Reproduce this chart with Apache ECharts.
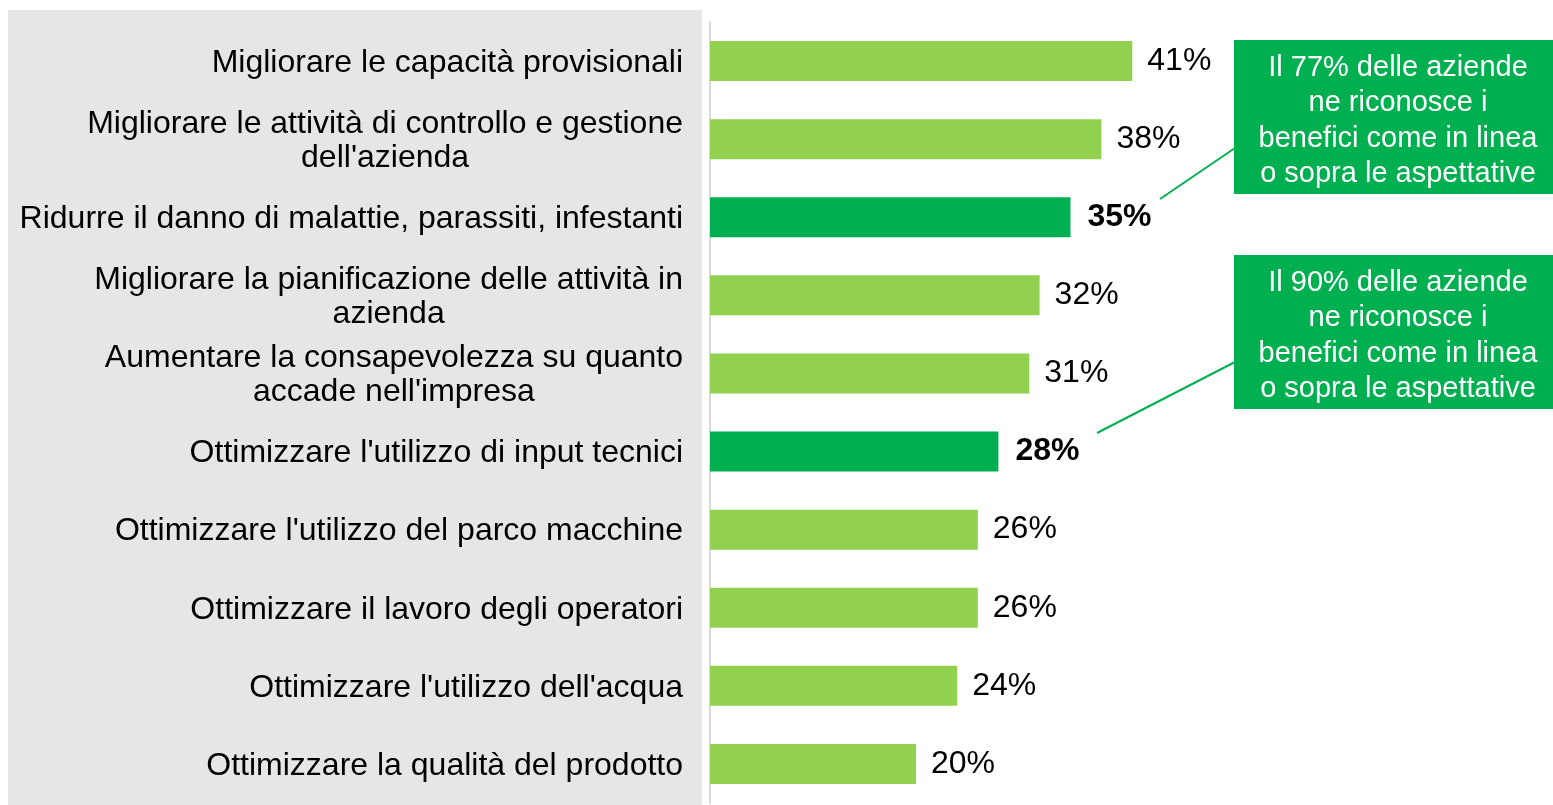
<!DOCTYPE html>
<html>
<head>
<meta charset="utf-8">
<script src="https://cdn.jsdelivr.net/npm/echarts@6/dist/echarts.min.js"></script>
<style>
  html, body { margin: 0; padding: 0; background: #fff; }
  #chart { width: 1553px; height: 805px; }
</style>
</head>
<body>
<div id="chart"></div>
<script>
// categorie (dall'alto verso il basso)
const categories = [
  'Migliorare le capacità provisionali',
  'Migliorare le attività di controllo e gestione\ndell\'azienda',
  'Ridurre il danno di malattie, parassiti, infestanti',
  'Migliorare la pianificazione delle attività in\nazienda',
  'Aumentare la consapevolezza su quanto\naccade nell\'impresa',
  'Ottimizzare l\'utilizzo di input tecnici',
  'Ottimizzare l\'utilizzo del parco macchine',
  'Ottimizzare il lavoro degli operatori',
  'Ottimizzare l\'utilizzo dell\'acqua',
  'Ottimizzare la qualità del prodotto'
]
const values = [41, 38, 35, 32, 31, 28, 26, 26, 24, 20]
const highlighted = [false, false, true, false, false, true, false, false, false, false]
const callouts = [
  'Il 77% delle aziende\nne riconosce i\nbenefici come in linea\no sopra le aspettative',
  'Il 90% delle aziende\nne riconosce i\nbenefici come in linea\no sopra le aspettative'
]

const FONT = 'Liberation Sans, Arial, sans-serif'
const LIGHT = '#92D050'
const DARK = '#00B050'

const chart = echarts.init(document.getElementById('chart'))

const barData = values.map((v, i) => ({
  value: v,
  itemStyle: { color: highlighted[i] ? DARK : LIGHT },
  label: highlighted[i] ? { fontWeight: 'bold', distance: 17 } : {}
}))

const option = {
  animation: false,
  backgroundColor: '#fff',
  grid: { left: 710, right: 19, top: 22, bottom: 2, outerBoundsMode: 'none' },
  xAxis: { type: 'value', min: 0, max: 80, show: false },
  yAxis: {
    type: 'category',
    inverse: true,
    data: categories,
    axisLine: { show: true, lineStyle: { color: '#d9d9d9', width: 2 } },
    axisTick: { show: false },
    axisLabel: {
      margin: 27,
      fontSize: 32,
      fontFamily: FONT,
      color: '#000',
      lineHeight: 34,
      padding: [4, 0, 0, 0],
      // righe centrate tra loro, blocco allineato a destra
      formatter: (val) => val.split('\n').map((l) => '{c|' + l + '}').join('\n'),
      rich: { c: { align: 'center', fontSize: 32, fontFamily: FONT, color: '#000', lineHeight: 34 } }
    }
  },
  series: [
    {
      type: 'bar',
      barWidth: 40,
      data: barData,
      label: {
        show: true,
        position: 'right',
        distance: 15,
        formatter: '{c}%',
        fontSize: 32,
        fontFamily: FONT,
        color: '#000'
      }
    }
  ],
  graphic: [
    // pannello grigio dietro le etichette
    { type: 'rect', z: -10, shape: { x: 8, y: 10, width: 694, height: 795 }, style: { fill: '#e6e6e6' } },
    // riquadri di commento
    { type: 'rect', shape: { x: 1234, y: 40, width: 330, height: 154 }, style: { fill: DARK } },
    {
      type: 'text', x: 1398, y: 121,
      style: { text: callouts[0], fill: '#fff', font: '29px ' + FONT, lineHeight: 35.5, align: 'center', verticalAlign: 'middle' }
    },
    { type: 'rect', shape: { x: 1234, y: 255, width: 330, height: 154 }, style: { fill: DARK } },
    {
      type: 'text', x: 1398, y: 336,
      style: { text: callouts[1], fill: '#fff', font: '29px ' + FONT, lineHeight: 35.5, align: 'center', verticalAlign: 'middle' }
    },
    { type: 'line', shape: { x1: 1160, y1: 199, x2: 1235, y2: 148 }, style: { stroke: DARK, lineWidth: 2 } },
    { type: 'line', shape: { x1: 1097, y1: 433, x2: 1235, y2: 362 }, style: { stroke: DARK, lineWidth: 2 } }
  ]
}

chart.setOption(option)
window.addEventListener('resize', () => chart.resize())
</script>
</body>
</html>
